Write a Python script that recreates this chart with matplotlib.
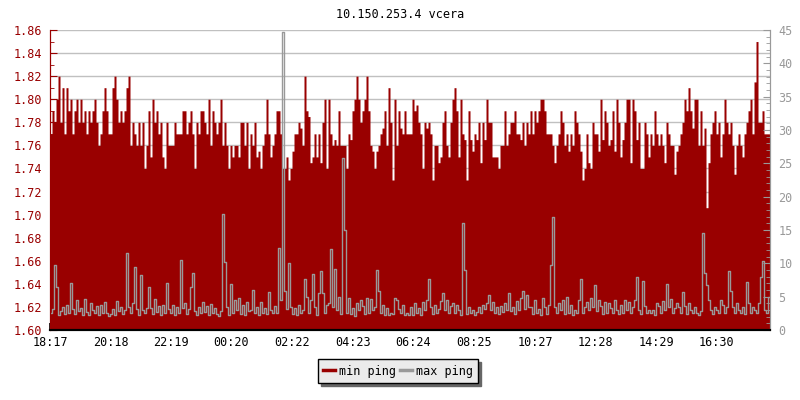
import numpy as np
import matplotlib.pyplot as plt

# min ping (ms), left axis, read in 2px steps across the plot
min_ping = [
    1.77, 1.79, 1.78, 1.80, 1.82, 1.78, 1.81, 1.77, 1.81, 1.79,
    1.80, 1.77, 1.79, 1.80, 1.78, 1.80, 1.78, 1.79, 1.77, 1.79,
    1.78, 1.79, 1.80, 1.78, 1.76, 1.77, 1.79, 1.81, 1.79, 1.77,
    1.77, 1.81, 1.82, 1.80, 1.78, 1.79, 1.78, 1.79, 1.81, 1.82,
    1.76, 1.78, 1.77, 1.76, 1.78, 1.76, 1.78, 1.74, 1.76, 1.79,
    1.75, 1.80, 1.78, 1.79, 1.77, 1.78, 1.75, 1.74, 1.78, 1.76,
    1.76, 1.76, 1.78, 1.77, 1.77, 1.77, 1.79, 1.79, 1.77, 1.78,
    1.79, 1.77, 1.74, 1.78, 1.77, 1.79, 1.79, 1.78, 1.77, 1.80,
    1.76, 1.79, 1.78, 1.77, 1.78, 1.80, 1.76, 1.78, 1.76, 1.74,
    1.76, 1.75, 1.76, 1.76, 1.75, 1.78, 1.78, 1.76, 1.78, 1.74,
    1.77, 1.76, 1.78, 1.75, 1.755, 1.74, 1.76, 1.77, 1.80, 1.77,
    1.75, 1.76, 1.77, 1.79, 1.79, 1.77, 1.74, 1.74, 1.75, 1.73,
    1.74, 1.755, 1.77, 1.77, 1.78, 1.775, 1.76, 1.82, 1.79, 1.785,
    1.745, 1.75, 1.77, 1.75, 1.77, 1.745, 1.78, 1.80, 1.74, 1.80,
    1.77, 1.76, 1.765, 1.76, 1.79, 1.76, 1.76, 1.76, 1.74, 1.77,
    1.765, 1.79, 1.80, 1.82, 1.80, 1.78, 1.79, 1.80, 1.82, 1.79,
    1.76, 1.755, 1.74, 1.755, 1.76, 1.77, 1.775, 1.79, 1.76, 1.81,
    1.78, 1.73, 1.80, 1.76, 1.79, 1.775, 1.77, 1.79, 1.77, 1.77,
    1.77, 1.80, 1.79, 1.795, 1.78, 1.77, 1.74, 1.78, 1.775, 1.78,
    1.77, 1.73, 1.76, 1.76, 1.745, 1.75, 1.78, 1.79, 1.76, 1.75,
    1.78, 1.80, 1.81, 1.79, 1.75, 1.80, 1.77, 1.765, 1.73, 1.79,
    1.765, 1.755, 1.77, 1.765, 1.78, 1.745, 1.78, 1.765, 1.80, 1.78,
    1.78, 1.75, 1.75, 1.75, 1.74, 1.76, 1.76, 1.79, 1.76, 1.77,
    1.78, 1.78, 1.79, 1.77, 1.77, 1.765, 1.78, 1.76, 1.78, 1.77,
    1.79, 1.77, 1.79, 1.78, 1.79, 1.80, 1.80, 1.79, 1.77, 1.77,
    1.77, 1.76, 1.745, 1.76, 1.77, 1.79, 1.78, 1.76, 1.77, 1.755,
    1.77, 1.76, 1.79, 1.78, 1.77, 1.755, 1.73, 1.74, 1.77, 1.745,
    1.74, 1.78, 1.77, 1.77, 1.755, 1.80, 1.765, 1.79, 1.78, 1.76,
    1.765, 1.79, 1.755, 1.80, 1.78, 1.75, 1.765, 1.78, 1.80, 1.80,
    1.745, 1.80, 1.79, 1.765, 1.78, 1.74, 1.74, 1.78, 1.77, 1.75,
    1.77, 1.76, 1.79, 1.77, 1.76, 1.77, 1.76, 1.745, 1.78, 1.77,
    1.76, 1.76, 1.735, 1.755, 1.76, 1.77, 1.78, 1.80, 1.79, 1.81,
    1.79, 1.775, 1.80, 1.80, 1.76, 1.79, 1.76, 1.775, 1.706, 1.745,
    1.77, 1.78, 1.79, 1.77, 1.78, 1.75, 1.77, 1.80, 1.78, 1.77,
    1.78, 1.76, 1.735, 1.76, 1.77, 1.76, 1.75, 1.77, 1.78, 1.79,
    1.80, 1.77, 1.815, 1.85, 1.78, 1.78, 1.79, 1.77, 1.77, 1.77,
]

# max ping (ms), right axis
max_ping = [
    2.5, 3.2, 9.8, 6.5, 2.2, 2.8, 3.5, 2.4, 3.8, 2.6,
    7.0, 3.2, 2.4, 4.5, 2.8, 3.3, 2.2, 4.6, 2.7, 2.3,
    4.0, 3.0, 2.5, 3.6, 2.2, 3.8, 2.6, 4.2, 2.5, 2.1,
    2.4, 3.2, 2.2, 4.3, 2.8, 3.5, 2.4, 3.0, 11.5, 3.4,
    2.6, 4.0, 9.5, 3.2, 2.3, 8.3, 3.0, 2.5, 3.3, 6.5,
    3.3, 2.4, 4.7, 2.7, 3.6, 2.3, 3.8, 2.6, 7.0, 3.2,
    2.5, 3.8, 2.3, 3.5, 2.6, 10.5, 3.3, 4.0, 2.4, 3.2,
    6.5, 8.5, 2.8, 2.2, 3.4, 2.5, 4.2, 2.7, 3.6, 2.3,
    3.9, 2.6, 3.3, 2.4, 2.1, 2.8, 17.4, 10.2, 3.5, 2.3,
    6.9, 2.6, 4.5, 3.0, 4.8, 2.4, 3.8, 2.2, 4.2, 2.8,
    3.0, 6.0, 2.5, 3.5, 2.3, 4.2, 2.6, 3.3, 2.4, 5.7,
    3.0, 2.5, 3.6, 2.6, 12.3, 4.5, 44.7, 5.8, 3.2, 10.0,
    3.5, 2.4, 3.3, 2.2, 3.8, 2.5, 3.0, 7.7, 5.0, 2.5,
    4.5, 8.4, 3.5, 2.2, 5.5, 8.8, 5.5, 2.5, 3.8, 4.0,
    12.2, 3.5, 9.2, 3.0, 5.0, 2.4, 25.8, 15.0, 2.6, 4.8,
    2.4, 3.3, 2.1, 4.0, 3.0, 4.5, 3.6, 2.4, 4.8, 2.6,
    4.6, 3.0, 3.5, 9.0, 5.8, 2.5, 3.8, 2.3, 3.3, 2.2,
    2.6, 2.4, 4.8, 4.5, 3.2, 2.6, 3.8, 2.3, 2.6, 2.2,
    3.5, 2.3, 4.0, 2.5, 3.3, 2.2, 4.2, 3.0, 4.5, 7.7,
    3.5, 2.4, 3.8, 2.6, 3.2, 4.3, 5.5, 3.0, 4.5, 2.5,
    3.6, 4.0, 2.6, 3.8, 3.0, 2.3, 16.0, 9.0, 2.4, 3.5,
    2.6, 3.0, 2.2, 2.7, 3.5, 2.5, 3.8, 3.2, 4.0, 5.3,
    3.0, 4.2, 2.6, 3.5, 2.4, 3.6, 2.7, 4.0, 3.0, 5.6,
    2.8, 3.5, 2.4, 4.4, 3.0, 4.8, 5.8, 3.2, 5.3, 3.5,
    3.5, 2.4, 4.5, 2.6, 3.2, 2.3, 4.8, 3.5, 2.4, 3.8,
    9.8, 17.0, 3.5, 2.6, 4.0, 3.0, 4.5, 2.4, 5.0, 2.6,
    3.8, 2.3, 3.0, 2.6, 4.5, 7.7, 2.6, 3.5, 4.2, 3.0,
    4.8, 3.5, 6.7, 2.8, 4.5, 3.6, 2.4, 4.2, 2.6, 4.0,
    3.3, 2.5, 4.5, 3.0, 2.4, 3.7, 2.6, 4.5, 3.0, 4.2,
    2.5, 3.5, 4.5, 8.0, 3.0, 2.4, 7.3, 3.6, 2.5, 3.0,
    2.5, 3.0, 2.2, 4.0, 3.6, 2.5, 4.4, 3.0, 6.9, 3.5,
    4.6, 2.6, 3.3, 4.0, 3.5, 2.5, 5.7, 3.6, 2.4, 4.0,
    3.0, 2.6, 3.4, 2.5, 2.2, 2.8, 14.5, 8.5, 6.8, 4.5,
    3.0, 2.4, 3.5, 3.0, 2.5, 4.5, 3.8, 2.5, 3.5, 8.8,
    5.8, 3.5, 2.6, 4.0, 3.0, 2.5, 3.5, 2.4, 7.2, 4.0,
    2.5, 3.5, 3.0, 2.5, 4.0, 8.0, 10.3, 3.0, 2.6, 5.0,
]

tick_labels = ["18:17", "20:18", "22:19", "00:20", "02:22", "04:23",
               "06:24", "08:25", "10:27", "12:28", "14:29", "16:30"]
span_min = 1440  # one day shown

RED = "#990000"
GREY = "#999999"
FONT = "DejaVu Sans Mono"
FS = 8.5

def minutes_after_start(label, start="18:17"):
    h, m = map(int, label.split(":"))
    h0, m0 = map(int, start.split(":"))
    return ((h * 60 + m) - (h0 * 60 + m0)) % 1440

n = len(min_ping)
x = np.arange(n + 1) * span_min / n
y_min = np.append(min_ping, min_ping[-1])
y_max = np.append(max_ping, max_ping[-1])

plt.rcParams["font.family"] = FONT
fig = plt.figure(figsize=(8, 4), dpi=100)
ax = fig.add_axes([0.0625, 0.175, 0.9, 0.75])
ax2 = ax.twinx()

ax.fill_between(x, 1.60, y_min, step="post", color=RED, linewidth=0)
ax2.plot(x, y_max, drawstyle="steps-post", color=GREY, linewidth=1)

ax.set_xlim(0, span_min)
ax.set_ylim(1.60, 1.86)
ax2.set_ylim(0, 45)

ax.set_yticks(np.arange(1.60, 1.861, 0.02))
ax.set_yticks(np.arange(1.60, 1.861, 0.01), minor=True)
ax.set_yticklabels([f"{v:.2f}" for v in np.arange(1.60, 1.861, 0.02)])
ax2.set_yticks(np.arange(0, 46, 5))
ax2.set_yticks(np.arange(0, 46, 1), minor=True)
ax.set_xticks([minutes_after_start(t) for t in tick_labels])
ax.set_xticklabels(tick_labels)

ax.set_axisbelow(True)
ax.grid(axis="y", color="#c0c0c0", linewidth=1)

ax.tick_params(axis="y", which="both", direction="in", colors=RED, labelsize=FS, pad=6)
ax.tick_params(axis="y", which="major", length=5)
ax.tick_params(axis="y", which="minor", length=3)
ax.tick_params(axis="x", direction="in", length=5, width=1.2, colors="black", labelsize=FS, pad=4)
ax2.tick_params(axis="y", which="both", direction="in", colors=GREY, labelsize=FS, pad=6)
ax2.tick_params(axis="y", which="major", length=5)
ax2.tick_params(axis="y", which="minor", length=3)

for a in (ax, ax2):
    a.spines["top"].set_visible(False)
    a.spines["left"].set_color(RED)
    a.spines["right"].set_color(GREY)
    a.spines["bottom"].set_color("black")
    a.spines["bottom"].set_linewidth(1.5)

fig.text(0.5, 0.965, "10.150.253.4 vcera", ha="center", va="center", fontsize=FS)

handles = [plt.Line2D([], [], color=RED, linewidth=2.5),
           plt.Line2D([], [], color=GREY, linewidth=2.5)]
leg = fig.legend(handles, ["min ping", "max ping"], loc="center",
                 bbox_to_anchor=(0.4975, 0.0725), ncol=2, fontsize=FS,
                 handlelength=1.0, handletextpad=0.3, columnspacing=0.4,
                 borderpad=0.45, fancybox=False, framealpha=1,
                 facecolor="#ebebeb", edgecolor="black",
                 shadow={"color": "#666666", "alpha": 1})
leg.get_frame().set_linewidth(1)

fig.savefig("out.png", dpi=100)
